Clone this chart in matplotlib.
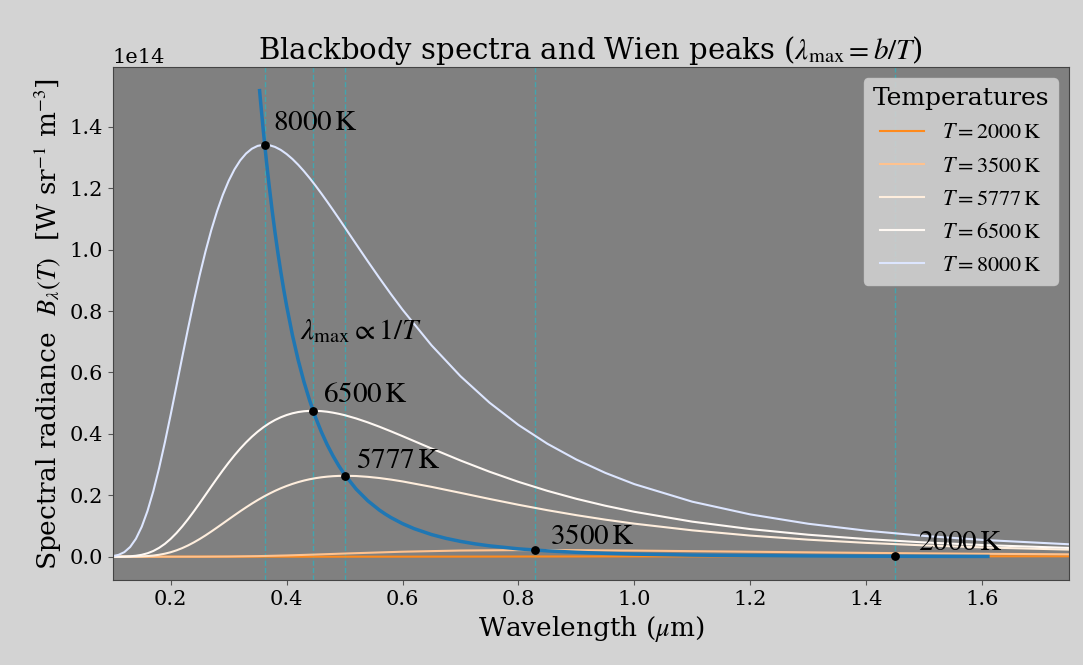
import numpy as np
import matplotlib
matplotlib.use("Agg")
import matplotlib.pyplot as plt

plt.rcParams['font.family'] = 'DejaVu Serif'
plt.rcParams['mathtext.fontset'] = 'stix'

# Comprimentos de onda (micrometros) e radiancia (em unidades de 1e14 W sr^-1 m^-3)
lam = [0.10, 0.11, 0.12, 0.13, 0.14, 0.15, 0.16, 0.17, 0.18, 0.19, 0.20, 0.21, 0.22,
       0.23, 0.24, 0.25, 0.26, 0.27, 0.28, 0.29, 0.30, 0.31, 0.32, 0.33, 0.34, 0.35,
       0.36, 0.37, 0.38, 0.39, 0.40, 0.41, 0.42, 0.43, 0.44, 0.45, 0.46, 0.47, 0.48,
       0.49, 0.50, 0.52, 0.54, 0.56, 0.58, 0.60, 0.65, 0.70, 0.75, 0.80, 0.85, 0.90,
       0.95, 1.00, 1.10, 1.20, 1.30, 1.40, 1.50, 1.60, 1.75]

b_8000 = [0.0018, 0.0059, 0.0148, 0.0315, 0.0584, 0.0973, 0.1491, 0.2134, 0.2886, 0.3726,
          0.4628, 0.5565, 0.6510, 0.7438, 0.8329, 0.9167, 0.9939, 1.0636, 1.1253, 1.1788,
          1.2240, 1.2613, 1.2909, 1.3131, 1.3287, 1.3380, 1.3416, 1.3405, 1.3346, 1.3248,
          1.3115, 1.2953, 1.2765, 1.2554, 1.2326, 1.2083, 1.1828, 1.1564, 1.1293, 1.1018,
          1.0739, 1.0179, 0.9623, 0.9080, 0.8552, 0.8046, 0.6885, 0.5878, 0.5018, 0.4291,
          0.3678, 0.3163, 0.2729, 0.2363, 0.1791, 0.1377, 0.1073, 0.0847, 0.0677, 0.0547,
          0.0404]

b_6500 = [0.00003, 0.00013, 0.0005, 0.0013, 0.0030, 0.0061, 0.0111, 0.0186, 0.0288, 0.0419,
          0.0581, 0.0771, 0.0987, 0.1224, 0.1477, 0.1742, 0.2013, 0.2285, 0.2553, 0.2814,
          0.3064, 0.3300, 0.3520, 0.3722, 0.3906, 0.4071, 0.4217, 0.4344, 0.4452, 0.4541,
          0.4614, 0.4670, 0.4711, 0.4737, 0.4750, 0.4751, 0.4741, 0.4721, 0.4691, 0.4654,
          0.4610, 0.4502, 0.4375, 0.4234, 0.4083, 0.3926, 0.3524, 0.3133, 0.2768, 0.2438,
          0.2144, 0.1885, 0.1659, 0.1462, 0.1141, 0.0899, 0.0715, 0.0574, 0.0465, 0.0380,
          0.0285]

b_5777 = [0.0, 0.00001, 0.00005, 0.00015, 0.0004, 0.0010, 0.0020, 0.0036, 0.0062, 0.0098,
          0.0145, 0.0206, 0.0280, 0.0367, 0.0466, 0.0575, 0.0693, 0.0819, 0.0949, 0.1082,
          0.1216, 0.1349, 0.1480, 0.1606, 0.1728, 0.1843, 0.1951, 0.2051, 0.2144, 0.2228,
          0.2303, 0.2370, 0.2429, 0.2480, 0.2523, 0.2558, 0.2586, 0.2607, 0.2622, 0.2631,
          0.2635, 0.2627, 0.2601, 0.2562, 0.2511, 0.2451, 0.2274, 0.2079, 0.1881, 0.1691,
          0.1514, 0.1352, 0.1206, 0.1076, 0.0858, 0.0687, 0.0554, 0.0450, 0.0368, 0.0303,
          0.0230]

lam_3500 = [0.10, 0.20, 0.25, 0.30, 0.35, 0.40, 0.45, 0.50, 0.60, 0.70, 0.80, 0.90, 1.00,
            1.10, 1.20, 1.30, 1.40, 1.50, 1.60, 1.75]
b_3500 = [0.0, 0.0000044, 0.000088, 0.00055, 0.0018, 0.0040, 0.0070, 0.0102, 0.0162, 0.0200,
          0.0214, 0.0212, 0.0199, 0.0180, 0.0161, 0.0142, 0.0124, 0.0108, 0.0094, 0.0077]

lam_2000 = [0.10, 0.30, 0.40, 0.50, 0.60, 0.70, 0.80, 0.90, 1.00, 1.10, 1.20, 1.30, 1.40,
            1.50, 1.60, 1.75]
b_2000 = [0.0, 0.00000002, 0.0000018, 0.0000215, 0.000095, 0.000244, 0.000452, 0.000681,
          0.000895, 0.00107, 0.001195, 0.00127, 0.00131, 0.00131, 0.00128, 0.00121]

# Lugar geometrico dos picos (lei de Wien)
wien_lam = [0.3534, 0.355, 0.36, 0.365, 0.37, 0.375, 0.38, 0.385, 0.39, 0.395, 0.40, 0.41,
            0.42, 0.43, 0.44, 0.45, 0.46, 0.47, 0.48, 0.49, 0.50, 0.52, 0.54, 0.56, 0.57,
            0.58, 0.60, 0.62, 0.65, 0.675, 0.70, 0.725, 0.75, 0.80, 0.85, 0.90, 0.95, 1.00,
            1.10, 1.20, 1.30, 1.40, 1.50, 1.61]
wien_b = [1.518, 1.4839, 1.3837, 1.2915, 1.2065, 1.1282, 1.0559, 0.9891, 0.9273, 0.8701,
          0.8171, 0.7221, 0.6402, 0.5691, 0.5073, 0.4534, 0.4062, 0.3648, 0.3284, 0.2962,
          0.2677, 0.2201, 0.1822, 0.1519, 0.1391, 0.1275, 0.1076, 0.0913, 0.0721, 0.0597,
          0.0498, 0.0418, 0.0353, 0.0255, 0.0189, 0.0142, 0.0108, 0.0084, 0.0052, 0.0034,
          0.0023, 0.0016, 0.0011, 0.0008]

# Picos de cada temperatura
peak_T = [2000, 3500, 5777, 6500, 8000]
peak_lam = [1.4489, 0.8279, 0.5016, 0.4458, 0.3622]
peak_b = [0.00131, 0.0215, 0.2635, 0.4751, 1.3417]

curvas = [
    (2000, lam_2000, b_2000, '#ff8a1c'),
    (3500, lam_3500, b_3500, '#ffc28e'),
    (5777, lam, b_5777, '#ffeedd'),
    (6500, lam, b_6500, '#fff9f4'),
    (8000, lam, b_8000, '#dde6ff'),
]

fig = plt.figure(figsize=(10.83, 6.65), dpi=100, facecolor='lightgray')
ax = fig.add_axes([0.1041, 0.1278, 0.8830, 0.7710])
ax.set_facecolor('gray')

for l in peak_lam:
    ax.axvline(l, color='#17becf', ls='--', lw=1, alpha=0.6, zorder=1)

for T, x, b, c in curvas:
    ax.plot(x, np.array(b) * 1e14, color=c, lw=1.5, zorder=2,
            label=r'$T = %d\,\mathrm{K}$' % T)

ax.plot(wien_lam, np.array(wien_b) * 1e14, color='#1f77b4', lw=2.5, zorder=3)
ax.scatter(peak_lam, np.array(peak_b) * 1e14, s=28, color='black', zorder=4)

for T, l, b in zip(peak_T, peak_lam, peak_b):
    ax.text(l * 1.025 + 0.005, (b * 1.02 + 0.02) * 1e14, r'$%d\,\mathrm{K}$' % T,
            fontsize=21, zorder=5)

ax.text(0.423, 0.709e14, r'$\lambda_{\max} \propto 1/T$', fontsize=21)

ax.set_xlim(0.1, 1.75)
ax.set_ylim(-0.076e14, 1.594e14)
ax.set_title(r'Blackbody spectra and Wien peaks ($\lambda_{\max} = b/T$)', fontsize=21)
ax.set_xlabel(r'Wavelength ($\mu$m)', fontsize=19)
ax.set_ylabel(r'Spectral radiance  $B_\lambda(T)$  [W sr$^{-1}$ m$^{-3}$]', fontsize=19)
ax.tick_params(labelsize=15, color='#555555')
ax.yaxis.get_offset_text().set_fontsize(15)
for s in ax.spines.values():
    s.set_color('#444444')

leg = ax.legend(title='Temperatures', fontsize=16, title_fontsize=18, loc='upper right',
                facecolor='#d0d0d0', framealpha=0.9, edgecolor='#c8c8c8')

fig.savefig('out.png', dpi=100, facecolor=fig.get_facecolor())
